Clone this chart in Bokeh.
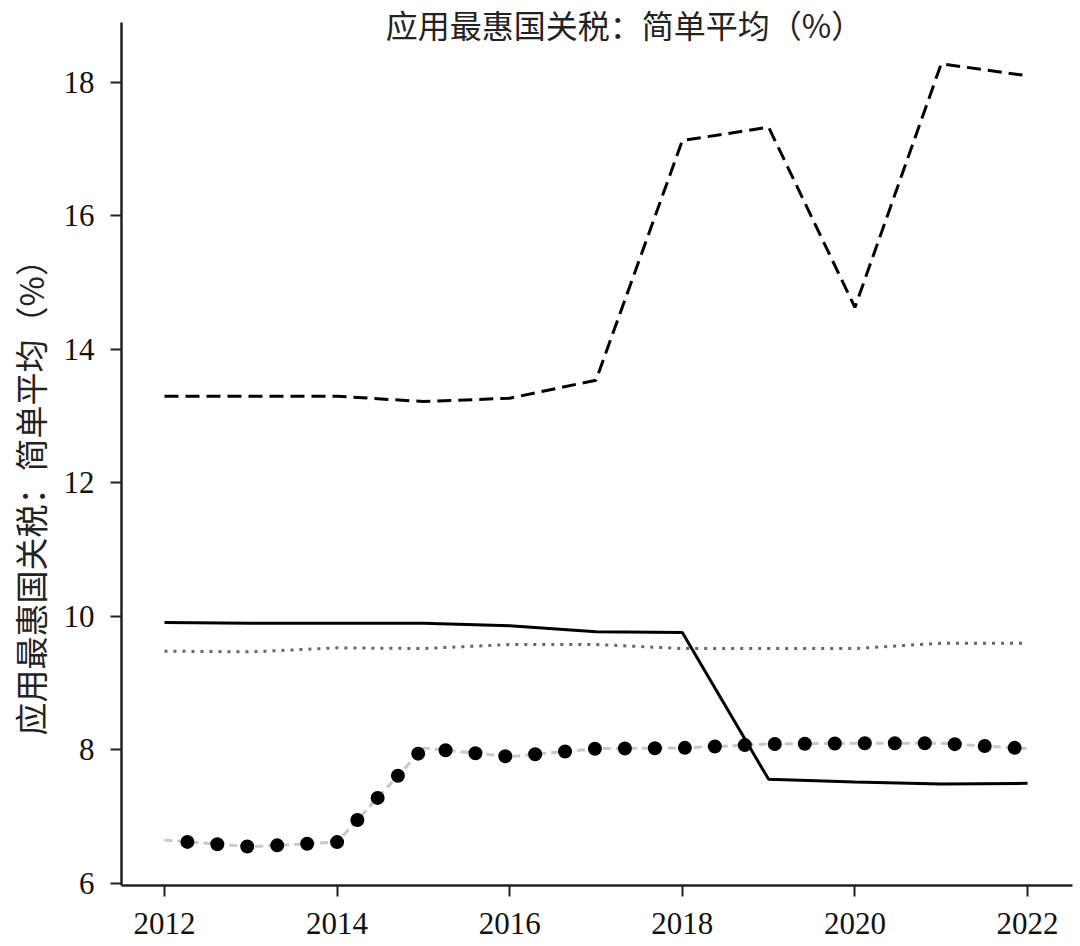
import math
from bokeh.plotting import figure
from bokeh.models import Range1d, FixedTicker, Label, Title
from bokeh.embed import file_html
from bokeh.resources import INLINE

years = [2012, 2013, 2014, 2015, 2016, 2017, 2018, 2019, 2020, 2021, 2022]
series_dashed = [13.3, 13.3, 13.3, 13.22, 13.27, 13.54, 17.13, 17.33, 14.63, 18.28, 18.1]
series_solid = [9.91, 9.9, 9.9, 9.9, 9.86, 9.77, 9.76, 7.56, 7.52, 7.49, 7.5]
series_dotted = [9.48, 9.47, 9.53, 9.52, 9.58, 9.58, 9.52, 9.52, 9.52, 9.6, 9.6]
series_dots = [6.65, 6.55, 6.62, 8.03, 7.9, 8.02, 8.03, 8.09, 8.1, 8.1, 8.02]

x_ticks = [2012, 2014, 2016, 2018, 2020, 2022]
y_ticks = [6, 8, 10, 12, 14, 16, 18]
title_text = "应用最惠国关税：简单平均（%）"

p = figure(width=1076, height=944, output_backend="svg", toolbar_location=None,
           x_range=Range1d(2011.502, 2022.521), y_range=Range1d(5.97, 19.228),
           min_border_left=121, min_border_right=4, min_border_top=0, min_border_bottom=59)
p.outline_line_color = None
p.xgrid.visible = False
p.ygrid.visible = False
p.background_fill_color = "white"

for ax in (p.xaxis[0], p.yaxis[0]):
    ax.axis_line_width = 2.5
    ax.axis_line_color = "#222222"
    ax.major_tick_line_width = 2
    ax.major_tick_line_color = "#222222"
    ax.major_tick_out = 11
    ax.major_tick_in = 0
    ax.minor_tick_line_color = None
    ax.major_label_text_font = "Liberation Serif"
    ax.major_label_text_font_size = "31px"
    ax.major_label_text_color = "#111111"

p.xaxis[0].ticker = FixedTicker(ticks=x_ticks)
p.yaxis[0].ticker = FixedTicker(ticks=y_ticks)
p.yaxis[0].bounds = (5.97, 18.9)
p.xaxis[0].major_label_standoff = 16
p.yaxis[0].major_label_standoff = 16

# gray dashed line with black dots
p.line(years, series_dots, line_color="#c8c8c8", line_width=3, line_dash="8 5")
p.line(years, series_dots, line_color="black", line_width=14, line_dash="0 30",
       line_dash_offset=7, line_cap="round")
# dotted gray line
p.line(years, series_dotted, line_color="#666666", line_width=3, line_dash="3 6")
# solid black
p.line(years, series_solid, line_color="black", line_width=3)
# dashed black
p.line(years, series_dashed, line_color="black", line_width=3, line_dash="14 7")

p.add_layout(Label(x=2017.33, y=18.88, text=title_text, text_align="center",
                   text_baseline="middle", text_font="Noto Sans CJK SC",
                   text_font_size="32px", text_color="#222222"))
p.add_layout(Title(text=title_text, align="left", offset=150, vertical_align="top",
                   standoff=10, text_font="Noto Sans CJK SC", text_font_size="33px",
                   text_font_style="normal", text_color="#222222"), "left")

open("out.html", "w").write(file_html(p, INLINE))
